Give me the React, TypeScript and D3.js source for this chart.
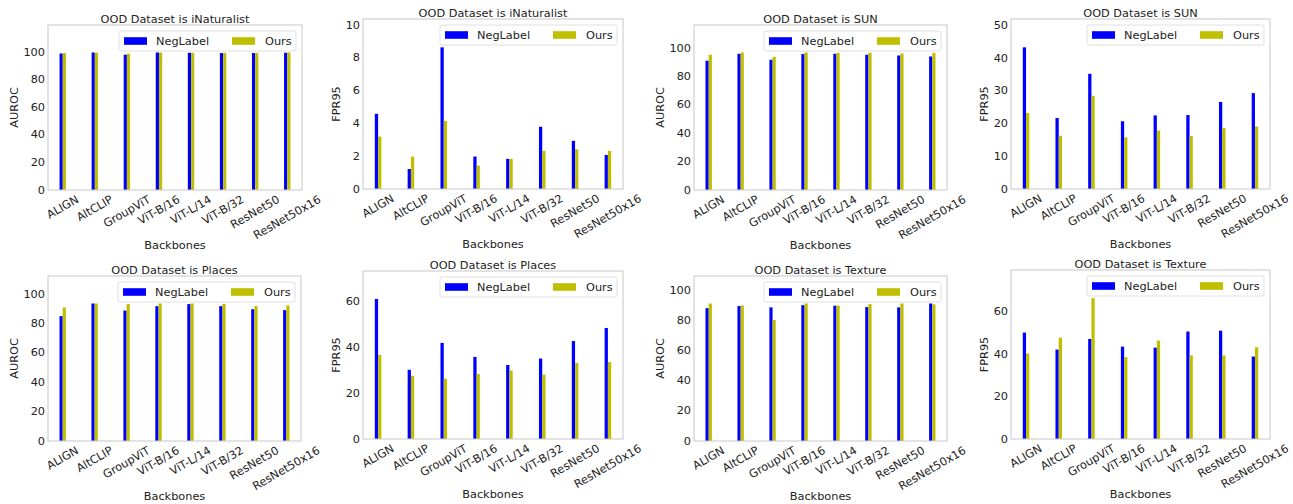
import React from "react";
import * as d3 from "d3";

// backbones on the x axis
const backbones = ["ALIGN", "AltCLIP", "GroupViT", "ViT-B/16", "ViT-L/14", "ViT-B/32", "ResNet50", "ResNet50x16"];
const seriesNames = ["NegLabel", "Ours"];

// values
const inatAurocNeg = [99.0, 99.7, 98.1, 99.7, 99.5, 99.3, 99.3, 99.5];
const inatAurocOurs = [99.3, 99.6, 98.8, 99.7, 99.5, 99.5, 99.3, 99.7];
const inatFprNeg = [4.59, 1.22, 8.65, 1.98, 1.84, 3.8, 2.94, 2.08];
const inatFprOurs = [3.2, 1.98, 4.16, 1.43, 1.84, 2.33, 2.43, 2.33];
const sunAurocNeg = [91.1, 96.0, 91.8, 95.8, 96.0, 95.3, 94.8, 94.1];
const sunAurocOurs = [95.3, 96.9, 93.9, 96.9, 96.7, 96.7, 96.2, 96.5];
const sunFprNeg = [43.3, 21.7, 35.2, 20.7, 22.5, 22.6, 26.6, 29.3];
const sunFprOurs = [23.2, 16.3, 28.5, 15.8, 17.9, 16.2, 18.6, 19.1];
const placesAurocNeg = [85.0, 93.6, 88.8, 91.8, 93.2, 91.8, 89.7, 89.1];
const placesAurocOurs = [90.9, 93.6, 93.2, 93.6, 93.6, 93.4, 91.8, 92.3];
const placesFprNeg = [60.9, 30.1, 41.8, 35.7, 32.2, 35.0, 42.6, 48.3];
const placesFprOurs = [36.6, 27.5, 26.2, 28.3, 29.8, 28.0, 33.1, 33.5];
const textureAurocNeg = [88.4, 89.8, 88.9, 90.4, 90.0, 89.1, 88.9, 91.5];
const textureAurocOurs = [91.5, 90.2, 80.6, 91.5, 90.2, 91.1, 91.5, 90.9];
const textureFprNeg = [50.1, 42.1, 47.1, 43.5, 43.0, 50.6, 51.0, 38.8];
const textureFprOurs = [40.2, 47.7, 66.3, 38.5, 46.3, 39.4, 39.3, 43.2];

const FONT = "DejaVu Sans, sans-serif";
const FS = 11.3;
const TEXT = "#222222";
const colors = ["#0000ff", "#bfbf00"];

let ctx: CanvasRenderingContext2D | null = null;
function measure(s: string) {
  if (!ctx) ctx = document.createElement("canvas").getContext("2d");
  if (!ctx) return s.length * 6.5;
  ctx.font = `${FS}px "DejaVu Sans"`;
  return ctx.measureText(s).width;
}

type PanelProps = {
  title: string;
  ylabel: string;
  neg: number[];
  ours: number[];
  left: number;
  right: number;
  top: number;
  bottom: number;
};

const Panel = ({ title, ylabel, neg, ours, left, right, top, bottom }: PanelProps) => {
  const barW = 0.1;
  const x = d3.scaleLinear().domain([-0.41, 7.51]).range([left, right]);
  const ymax = 1.2 * d3.max([...neg, ...ours])!;
  const y = d3.scaleLinear().domain([0, ymax]).range([bottom, top]);
  const yticks = y.ticks(5);
  const tickW = d3.max(yticks, (t) => measure(String(t)))!;
  const cx = (left + right) / 2;
  const ylx = left - 3 - tickW - 9;

  // legend, upper right
  const lw = 177, lh = 20;
  const lx = right - 6 - lw, ly = top + 6;

  return (
    <g fontFamily={FONT} fontSize={FS} fill={TEXT}>
      <text x={cx} y={top - 2} textAnchor="middle">{title}</text>
      {backbones.map((b, i) => (
        <g key={b}>
          <rect x={x(i - barW / 2)} width={x(barW) - x(0)} y={y(neg[i])} height={bottom - y(neg[i])} fill={colors[0]} />
          <rect x={x(i + barW / 2)} width={x(barW) - x(0)} y={y(ours[i])} height={bottom - y(ours[i])} fill={colors[1]} />
        </g>
      ))}
      <rect x={left} y={top} width={right - left} height={bottom - top} fill="none" stroke="#c8c8c8" strokeWidth={1} />
      {yticks.map((t) => (
        <text key={t} x={left - 3} y={y(t)} textAnchor="end" dominantBaseline="central">{t}</text>
      ))}
      {backbones.map((b, i) => {
        const w = measure(b);
        const H = w * 0.5 + FS * 1.16 * 0.866;
        const tx = x(i + barW / 2);
        const ty = bottom + 3 + H / 2;
        return (
          <text key={b} x={tx} y={ty} textAnchor="middle" dominantBaseline="central" transform={`rotate(-30,${tx},${ty})`}>{b}</text>
        );
      })}
      <text x={cx} y={bottom + 59} textAnchor="middle">Backbones</text>
      <text
        x={ylx}
        y={(top + bottom) / 2}
        textAnchor="middle"
        dominantBaseline="central"
        transform={`rotate(-90,${ylx},${(top + bottom) / 2})`}
      >{ylabel}</text>
      <rect x={lx} y={ly} width={lw} height={lh} rx={2} fill="#ffffff" fillOpacity={0.8} stroke="#e0e0e0" />
      {seriesNames.map((s, k) => (
        <g key={s}>
          <rect x={lx + 5 + k * 108} y={ly + lh / 2 - 3.8} width={23} height={7.6} fill={colors[k]} />
          <text x={lx + 37 + k * 109} y={ly + lh / 2} dominantBaseline="central">{s}</text>
        </g>
      ))}
    </g>
  );
};

const panels: PanelProps[] = [
  { title: "OOD Dataset is iNaturalist", ylabel: "AUROC", neg: inatAurocNeg, ours: inatAurocOurs, left: 48, right: 302, top: 25, bottom: 190 },
  { title: "OOD Dataset is iNaturalist", ylabel: "FPR95", neg: inatFprNeg, ours: inatFprOurs, left: 363, right: 623, top: 19, bottom: 189 },
  { title: "OOD Dataset is SUN", ylabel: "AUROC", neg: sunAurocNeg, ours: sunAurocOurs, left: 694, right: 947, top: 25, bottom: 190 },
  { title: "OOD Dataset is SUN", ylabel: "FPR95", neg: sunFprNeg, ours: sunFprOurs, left: 1011, right: 1270, top: 19, bottom: 189 },
  { title: "OOD Dataset is Places", ylabel: "AUROC", neg: placesAurocNeg, ours: placesAurocOurs, left: 48, right: 301, top: 276, bottom: 441 },
  { title: "OOD Dataset is Places", ylabel: "FPR95", neg: placesFprNeg, ours: placesFprOurs, left: 363, right: 623, top: 271, bottom: 439 },
  { title: "OOD Dataset is Texture", ylabel: "AUROC", neg: textureAurocNeg, ours: textureAurocOurs, left: 694, right: 947, top: 276, bottom: 441 },
  { title: "OOD Dataset is Texture", ylabel: "FPR95", neg: textureFprNeg, ours: textureFprOurs, left: 1011, right: 1270, top: 270, bottom: 439 },
];

export default function App() {
  return (
    <svg width={1293} height={504} style={{ position: "absolute", left: 0, top: 0, background: "#fff" }}>
      {panels.map((p, i) => (
        <Panel key={i} {...p} />
      ))}
    </svg>
  );
}
